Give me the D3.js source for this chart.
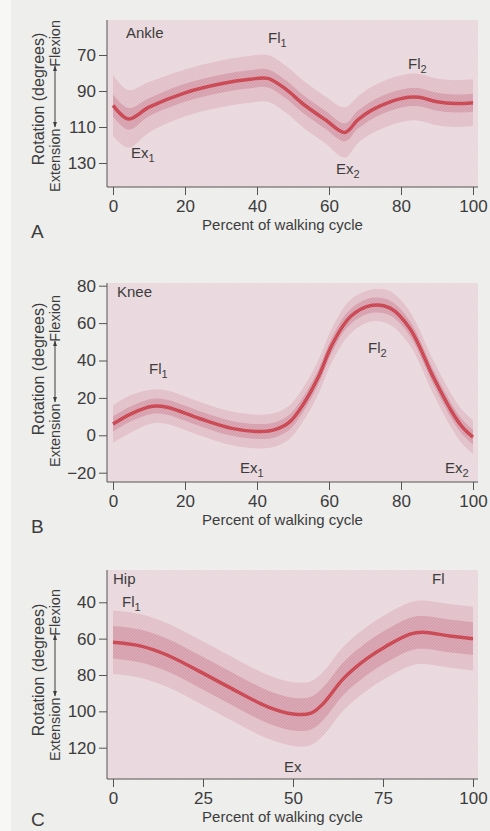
<!DOCTYPE html>
<html>
<head>
<meta charset="utf-8">
<script src="https://cdnjs.cloudflare.com/ajax/libs/d3/7.8.5/d3.min.js"></script>
<style>
  body { margin: 0; background: #eeeeec; }
  svg text { font-family: "Liberation Sans", Arial, sans-serif; fill: #3c3c3c; }
</style>
</head>
<body>
<div id="chart-area"></div>
<script>
// ankle (degrees, 90 = neutral)
var anklePct   = [0, 4.3, 10, 20, 30, 38, 43, 48, 53, 59, 64.4, 68, 72, 77, 82, 85, 90, 95, 100];
var ankleMean  = [98, 105.5, 99, 91, 86, 83.5, 83, 89, 97.5, 106, 113, 106, 100.5, 96, 93.5, 93.5, 96, 97, 96.5];
var ankleInner = [6, 6, 5, 5, 5, 5, 5, 5, 5, 5, 5, 5, 5, 5, 5, 5, 5, 5, 5];
var ankleOuter = [17, 16, 14, 13, 13, 13, 13, 13, 13, 13, 14, 13, 13, 13, 13, 13, 13, 13, 13];

// knee
var kneePct   = [0, 5, 11, 15, 24, 33, 41, 45, 49, 53, 57, 61, 66, 72, 77, 82.5, 89, 94, 97, 100];
var kneeMean  = [6, 11.5, 15.5, 15, 9, 3.7, 2, 3, 7, 17, 31, 49, 63.5, 69.5, 68, 57, 31, 13, 4.5, -1];
var kneeInner = [4, 4, 4, 4, 4, 4, 4, 4, 4, 4, 4, 4, 4, 4, 4, 4, 4, 4, 4, 4];
var kneeOuter = [10, 10, 9, 9, 9, 9, 9, 9, 9, 9, 9, 9, 9, 8.5, 9, 9, 9, 9, 9, 9];

// hip
var hipPct   = [0, 7.5, 15, 24, 33, 43, 50, 55, 58.5, 64, 70.5, 76, 82.5, 86, 93.5, 100];
var hipMean  = [62, 64, 69, 78, 87.5, 97.5, 101.5, 101, 95.5, 82, 71, 64, 57.5, 56.5, 58.5, 60];
var hipInner = [9, 9, 9, 9, 9, 9, 9, 9, 9, 9, 9, 9, 9, 9, 9, 9];
var hipOuter = [17.5, 17.5, 17.5, 17.5, 17.5, 17.5, 17.5, 17.5, 17.5, 17.5, 17.5, 17.5, 17.5, 17.5, 17.5, 17.5];

// tick labels
var xTicksAB = [0, 20, 40, 60, 80, 100];
var xTicksC = [0, 25, 50, 75, 100];
var ankleTicks = [70, 90, 110, 130];
var kneeTicks = [80, 60, 40, 20, 0, -20];
var hipTicks = [40, 60, 80, 100, 120];

var panels = [
  { letter: "A", top: 20, bottom: 187, yDomain: [70, 130], yRange: [55, 163], yTicks: ankleTicks, xTicks: xTicksAB,
    pct: anklePct, mean: ankleMean, inner: ankleInner, outer: ankleOuter, rotCenter: 99, colCenter: 106,
    notes: [["Ankle", "", 126, 38], ["Fl", "1", 268, 43], ["Fl", "2", 408, 69], ["Ex", "1", 131, 158], ["Ex", "2", 336, 174]] },
  { letter: "B", top: 283, bottom: 482, yDomain: [80, -20], yRange: [285.7, 472.7], yTicks: kneeTicks, xTicks: xTicksAB,
    pct: kneePct, mean: kneeMean, inner: kneeInner, outer: kneeOuter, rotCenter: 369, colCenter: 381,
    notes: [["Knee", "", 117, 297], ["Fl", "1", 149, 374], ["Fl", "2", 368, 353], ["Ex", "1", 240, 473], ["Ex", "2", 445, 473]] },
  { letter: "C", top: 570, bottom: 779, yDomain: [40, 120], yRange: [602.3, 747.7], yTicks: hipTicks, xTicks: xTicksC,
    pct: hipPct, mean: hipMean, inner: hipInner, outer: hipOuter, rotCenter: 670, colCenter: 675,
    notes: [["Hip", "", 113, 584], ["Fl", "1", 122, 607], ["Fl", "", 432, 584], ["Ex", "", 284, 772]] }
];

var plotLeft = 107, plotRight = 478;

var svg = d3.select("#chart-area")
  .append("svg")
    .attr("width", 490)
    .attr("height", 831);

svg.append("rect").attr("width", 490).attr("height", 831).attr("fill", "#eeeeec");
svg.append("rect").attr("width", 11).attr("height", 831).attr("fill", "#f7f7f6");

var defs = svg.append("defs");
defs.append("marker")
    .attr("id", "arrow")
    .attr("viewBox", "0 0 10 10")
    .attr("refX", 9).attr("refY", 5)
    .attr("markerWidth", 6).attr("markerHeight", 6)
    .attr("orient", "auto-start-reverse")
  .append("path")
    .attr("d", "M0,1.5 L10,5 L0,8.5 z")
    .attr("fill", "#3c3c3c");

// fine cross-hatch like the printed screen
var pat = defs.append("pattern")
    .attr("id", "hatch")
    .attr("width", 3).attr("height", 3)
    .attr("patternUnits", "userSpaceOnUse");
pat.append("path").attr("d", "M0,3 L3,0").attr("stroke", "#ffffff").attr("stroke-opacity", 0.18).attr("stroke-width", 0.7);

var x = d3.scaleLinear().domain([0, 100]).range([113, 473]);

panels.forEach(function(p) {
  var y = d3.scaleLinear().domain(p.yDomain).range(p.yRange);
  var rows = p.pct.map(function(v, i) {
    return { p: v, m: p.mean[i], a: p.inner[i], b: p.outer[i] };
  });
  var g = svg.append("g");

  // plot background
  g.append("rect")
    .attr("x", plotLeft).attr("y", p.top)
    .attr("width", plotRight - plotLeft).attr("height", p.bottom - p.top)
    .attr("fill", "#e9d8dd");

  var curve = d3.curveCatmullRom.alpha(0.5);
  var outerArea = d3.area().curve(curve)
    .x(d => x(d.p)).y0(d => y(d.m - d.b)).y1(d => y(d.m + d.b));
  var innerArea = d3.area().curve(curve)
    .x(d => x(d.p)).y0(d => y(d.m - d.a)).y1(d => y(d.m + d.a));
  var meanLine = d3.line().curve(curve)
    .x(d => x(d.p)).y(d => y(d.m));

  g.append("path").datum(rows).attr("d", outerArea).attr("fill", "#e1c0c9");
  g.append("path").datum(rows).attr("d", innerArea).attr("fill", "#d6a0ae");
  g.append("path").datum(rows).attr("d", meanLine)
    .attr("fill", "none").attr("stroke", "#c9444f").attr("stroke-width", 3.5);

  g.append("rect")
    .attr("x", plotLeft).attr("y", p.top)
    .attr("width", plotRight - plotLeft).attr("height", p.bottom - p.top)
    .attr("fill", "url(#hatch)");

  // axes
  var yAxis = g.append("g")
    .attr("transform", "translate(" + plotLeft + ",0)")
    .call(d3.axisLeft(y).tickValues(p.yTicks).tickSize(8).tickPadding(3));
  var xAxis = g.append("g")
    .attr("transform", "translate(0," + p.bottom + ")")
    .call(d3.axisBottom(x).tickValues(p.xTicks).tickSize(8).tickPadding(5));
  [yAxis, xAxis].forEach(function(a) {
    a.select(".domain").remove();
    a.selectAll("line").attr("stroke", "#555");
    a.selectAll("text").attr("font-size", "17px").attr("fill", "#3c3c3c")
      .style("font-family", "'Liberation Sans', Arial, sans-serif");
  });
  g.append("line")
    .attr("x1", plotLeft).attr("x2", plotLeft).attr("y1", p.top).attr("y2", p.bottom)
    .attr("stroke", "#555");
  g.append("line")
    .attr("x1", plotLeft).attr("x2", plotRight).attr("y1", p.bottom).attr("y2", p.bottom)
    .attr("stroke", "#555");

  // axis titles
  g.append("text")
    .attr("transform", "translate(38," + p.rotCenter + ") rotate(-90)")
    .attr("dy", "0.35em")
    .attr("text-anchor", "middle")
    .attr("font-size", "16px")
    .text("Rotation (degrees)");

  var c = p.colCenter;
  g.append("text")
    .attr("transform", "translate(55," + (c + 86) + ") rotate(-90)")
    .attr("dy", "0.35em")
    .attr("text-anchor", "start")
    .attr("font-size", "14.5px")
    .text("Extension");
  g.append("text")
    .attr("transform", "translate(55," + (c - 86) + ") rotate(-90)")
    .attr("dy", "0.35em")
    .attr("text-anchor", "end")
    .attr("font-size", "14.5px")
    .text("Flexion");
  g.append("line")
    .attr("x1", 55).attr("x2", 55)
    .attr("y1", c + 21).attr("y2", c - 40)
    .attr("stroke", "#3c3c3c").attr("stroke-width", 1)
    .attr("marker-start", "url(#arrow)")
    .attr("marker-end", "url(#arrow)");

  g.append("text")
    .attr("x", (plotLeft + plotRight) / 2 - 10)
    .attr("y", p.bottom + 43)
    .attr("text-anchor", "middle")
    .attr("font-size", "15px")
    .text("Percent of walking cycle");

  g.append("text")
    .attr("x", 31)
    .attr("y", Math.min(p.bottom + 51, 826))
    .attr("font-size", "19px")
    .text(p.letter);

  // curve annotations
  p.notes.forEach(function(n) {
    var t = g.append("text")
      .attr("x", n[2]).attr("y", n[3])
      .attr("font-size", "15px")
      .text(n[0]);
    if (n[1]) {
      t.append("tspan").attr("dy", 4).attr("font-size", "11px").text(n[1]);
    }
  });
});
</script>
</body>
</html>
